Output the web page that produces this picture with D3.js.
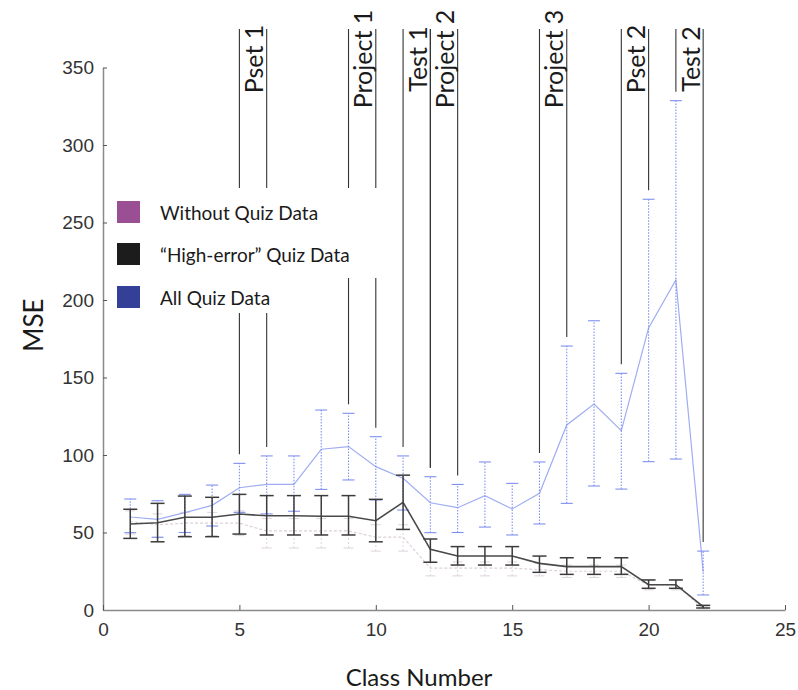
<!DOCTYPE html>
<html>
<head>
<meta charset="utf-8">
<script src="https://cdn.jsdelivr.net/npm/d3@7"></script>
<style>
  body { margin: 0; background: #fff; }
  svg text { font-family: Lato, "Open Sans", sans-serif; }
</style>
</head>
<body>
<svg id="chart" width="798" height="690"></svg>
<script>
// class numbers (x)
const classes = [1, 2, 3, 4, 5, 6, 7, 8, 9, 10, 11, 12, 13, 14, 15, 16, 17, 18, 19, 20, 21, 22];

// "All Quiz Data" (light blue)
const allMean = [60, 58.5, 62.8, 67.5, 78.9, 81.1, 81, 103.7, 105.4, 92.5, 85, 69.2, 66, 73.8, 65.2, 75.3, 119.4, 132.9, 115.7, 182, 212.9, 24.7];
const allHi = [71.6, 70.5, 74.6, 80.6, 94.6, 99.4, 99.4, 129, 126.9, 111.8, 99.4, 86, 81, 95.5, 81.7, 95.5, 170.3, 186.6, 152.7, 265, 328.6, 38];
const allLo = [49.9, 46.9, 50, 54.2, 63, 62, 63.7, 77.8, 83.9, 71, 64.5, 49.9, 50, 53.5, 48.4, 55.5, 68.8, 80, 78, 95.7, 97.4, 9.7];

// "High-error" Quiz Data (dark)
const highMean = [55.5, 56.3, 59.8, 59.8, 61.9, 60.8, 60.8, 60.5, 60.5, 57.6, 69.5, 39.1, 34.8, 34.8, 34.8, 30.1, 28, 28, 28, 16.3, 16.3, 2.2];
const highHi = [65, 68.8, 73.5, 72.7, 74.6, 73.8, 73.8, 73.8, 73.8, 71.4, 87, 45.8, 40.9, 40.9, 40.9, 34.8, 33.7, 33.7, 33.7, 19.4, 19.4, 3];
const highLo = [46.2, 44, 47.3, 47.3, 49, 48.4, 48.4, 48.4, 48.4, 44, 52, 30.8, 29, 29, 29, 24.3, 23, 23, 23, 14, 14, 1.3];

// Without Quiz Data (faint)
const withoutMean = [57, 55, 56, 56, 56, 51, 51, 51, 51, 47, 47, 27, 27, 27, 27, 26, 25, 25, 25, 16, 16, 1];
const withoutHi = [64, 62, 63, 63, 64, 59, 59, 59, 59, 55, 55, 31, 31, 31, 31, 30, 29, 29, 29, 19, 19, 2];
const withoutLo = [49, 47, 48, 48, 48, 40, 40, 40, 40, 38, 38, 22, 22, 22, 22, 22, 21, 21, 21, 13, 13, 0.5];

// assignment annotations: label between two class numbers
const eventLabels = ["Pset 1", "Project 1", "Test 1", "Project 2", "Project 3", "Pset 2", "Test 2"];
const eventFrom = [5, 9, 11, 12, 16, 19, 21];
const eventTo = [6, 10, 12, 13, 17, 20, 22];

const legendLabels = ["Without Quiz Data", "\u201cHigh-error\u201d Quiz Data", "All Quiz Data"];
const legendColors = ["#9a4f94", "#1c1c1c", "#343f98"];

const xTicks = [0, 5, 10, 15, 20, 25];
const yTicks = [0, 50, 100, 150, 200, 250, 300, 350];

const svg = d3.select("#chart");
const x = d3.scaleLinear().domain([0, 25]).range([103, 785]);
const y = d3.scaleLinear().domain([0, 350]).range([610, 67.5]);

// axes
const yAxis = svg.append("g")
  .attr("transform", `translate(${x(0)},0)`)
  .call(d3.axisLeft(y).tickValues(yTicks).tickSizeInner(-4).tickSizeOuter(0).tickPadding(9));
const xAxis = svg.append("g")
  .attr("transform", `translate(0,${y(0)})`)
  .call(d3.axisBottom(x).tickValues(xTicks).tickSizeInner(-5).tickSizeOuter(0).tickPadding(13));
[xAxis, yAxis].forEach(a => {
  a.select(".domain").attr("stroke", "#8a8a8a").attr("stroke-width", 1.5);
  a.selectAll(".tick line").attr("stroke", "#555");
  a.selectAll(".tick text")
    .style("font-family", "'Liberation Sans', Arial, sans-serif")
    .style("font-size", "19px")
    .attr("fill", "#333");
});

function drawSeries(mean, lo, hi, style) {
  const g = svg.append("g");
  g.append("path")
    .datum(classes)
    .attr("fill", "none")
    .attr("stroke", style.line)
    .attr("stroke-width", style.lineWidth)
    .attr("stroke-dasharray", style.lineDash || null)
    .attr("d", d3.line().x(c => x(c)).y((c, i) => y(mean[i])));
  const bars = g.selectAll(".bar").data(classes).enter().append("g");
  bars.append("line")
    .attr("x1", c => x(c)).attr("x2", c => x(c))
    .attr("y1", (c, i) => y(lo[i])).attr("y2", (c, i) => y(hi[i]))
    .attr("stroke", style.bar)
    .attr("stroke-width", style.barWidth)
    .attr("stroke-dasharray", style.barDash || null);
  [lo, hi].forEach(arr => {
    bars.append("line")
      .attr("x1", c => x(c) - style.cap).attr("x2", c => x(c) + style.cap)
      .attr("y1", (c, i) => y(arr[i])).attr("y2", (c, i) => y(arr[i]))
      .attr("stroke", style.bar)
      .attr("stroke-width", style.barWidth);
  });
}

drawSeries(withoutMean, withoutLo, withoutHi,
  {line: "#dcd0da", lineWidth: 1.2, lineDash: "3,2", bar: "#ddd3dc", barWidth: 1, barDash: "2,2", cap: 5});
drawSeries(allMean, allLo, allHi,
  {line: "#9fadf2", lineWidth: 1.2, bar: "#7f90f0", barWidth: 1.1, barDash: "1.5,1.5", cap: 6});
drawSeries(highMean, highLo, highHi,
  {line: "#4a4a4a", lineWidth: 1.6, bar: "#3c3c3c", barWidth: 1.5, cap: 7});

// annotation lines: from top down to just above the blue error bar
const lineTop = 29;
const annot = svg.append("g");
eventLabels.forEach((label, i) => {
  [eventFrom[i], eventTo[i]].forEach(c => {
    annot.append("line")
      .attr("x1", x(c)).attr("x2", x(c))
      .attr("y1", lineTop)
      .attr("y2", y(allHi[c - 1]) - 9)
      .attr("stroke", "#333")
      .attr("stroke-width", 1.1);
  });
  const cx = (x(eventFrom[i]) + x(eventTo[i])) / 2;
  annot.append("text")
    .attr("transform", `translate(${cx},59) rotate(-90)`)
    .attr("text-anchor", "middle")
    .attr("dominant-baseline", "central")
    .style("font-size", "25px")
    .attr("fill", "#1a1a1a")
    .text(label);
});

// legend (white boxes hide the annotation lines)
const legend = svg.append("g");
legend.append("rect").attr("x", 108).attr("y", 188).attr("width", 272).attr("height", 90).attr("fill", "#fff");
legend.append("rect").attr("x", 108).attr("y", 277).attr("width", 185).attr("height", 36).attr("fill", "#fff");
const legendY = [212, 254, 297];
legendLabels.forEach((label, i) => {
  legend.append("rect")
    .attr("x", 117).attr("y", legendY[i] - 11)
    .attr("width", 23).attr("height", 22)
    .attr("fill", legendColors[i]);
  legend.append("text")
    .attr("x", 160).attr("y", legendY[i])
    .attr("dominant-baseline", "central")
    .style("font-size", "19px")
    .attr("fill", "#1a1a1a")
    .text(label);
});

// axis titles
svg.append("text")
  .attr("transform", "translate(33,325) rotate(-90)")
  .attr("text-anchor", "middle")
  .attr("dominant-baseline", "central")
  .style("font-size", "26px")
  .attr("fill", "#1a1a1a")
  .text("MSE");
svg.append("text")
  .attr("x", 419).attr("y", 676)
  .attr("text-anchor", "middle")
  .attr("dominant-baseline", "central")
  .style("font-size", "24px")
  .attr("fill", "#1a1a1a")
  .text("Class Number");
</script>
</body>
</html>
